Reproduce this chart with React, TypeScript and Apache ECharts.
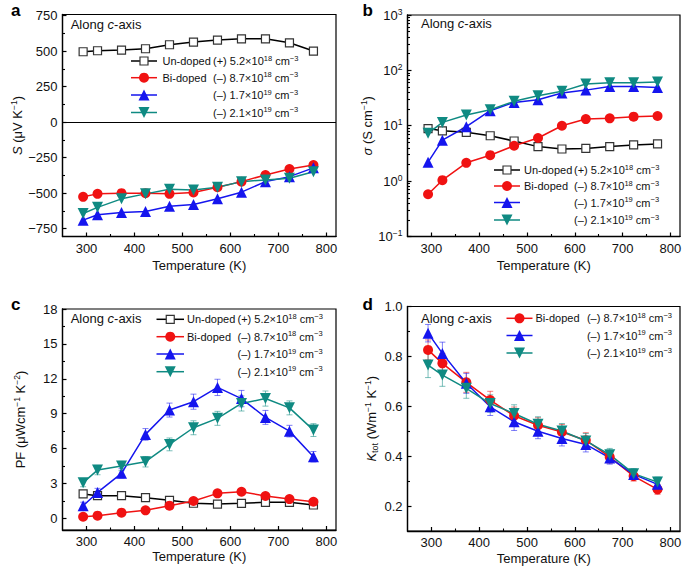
import React, { useEffect, useRef } from "react";
import * as echarts from "echarts";

const FONT = "'Liberation Sans', Arial, Helvetica, sans-serif";
const INK = "#111";
const RED = "#f01212";
const BLUE = "#1515ee";
const TEAL = "#0f8a82";

// ---------- data ----------
const temperatures = [293, 323, 373, 423, 473, 523, 573, 623, 673, 723, 773];
const xTickValues = [300, 400, 500, 600, 700, 800];
const xMinorValues = [350, 450, 550, 650, 750];

// a: Seebeck coefficient S (µV K^-1)
const seebeckUndoped = [495, 502, 507, 516, 544, 563, 577, 586, 586, 558, 500];
const seebeckBi87 = [-526, -505, -500, -500, -505, -495, -458, -419, -372, -330, -302];
const seebeckBi17 = [-690, -652, -636, -629, -592, -580, -540, -493, -419, -384, -322];
const seebeckBi21 = [-643, -600, -540, -505, -472, -477, -458, -419, -407, -395, -349];
const aTicks = [-750, -500, -250, 0, 250, 500, 750];
const aMinor = [-625, -375, -125, 125, 375, 625];

// b: electrical conductivity σ (S cm^-1)
const sigmaUndoped = [8.9, 8.1, 7.6, 6.6, 5.3, 4.2, 3.8, 3.9, 4.2, 4.5, 4.7];
const sigmaBi87 = [0.58, 1.04, 2.14, 2.94, 4.35, 6.0, 10, 13.2, 13.6, 14.6, 15];
const sigmaBi17 = [2.2, 5.5, 9.6, 18.7, 26.4, 29.5, 39, 44, 51, 51, 49];
const sigmaBi21 = [7.3, 11.5, 15.6, 19.5, 27.6, 34.9, 41.8, 56.7, 60, 60, 61.7];
const bMinorMultipliers = [2, 3, 4, 5, 6, 7, 8, 9];
const bDecades = [-1, 0, 1, 2];

// c: power factor PF (µW cm^-1 K^-2)
const pfUndoped = [2.1, 1.95, 1.95, 1.78, 1.55, 1.3, 1.23, 1.29, 1.38, 1.38, 1.15];
const pfBi87 = [0.14, 0.23, 0.49, 0.69, 1.09, 1.49, 2.15, 2.29, 1.92, 1.66, 1.43];
const pfBi17 = [1.09, 2.23, 3.87, 7.22, 9.31, 10.03, 11.26, 10.3, 8.68, 7.5, 5.3];
const pfBi21 = [3.07, 4.15, 4.5, 4.87, 6.36, 7.79, 8.6, 9.88, 10.3, 9.5, 7.59];
const pfErrBi17 = [0.3, 0.35, 0.4, 0.5, 0.6, 0.65, 0.7, 0.7, 0.6, 0.5, 0.45];
const pfErrBi21 = [0.35, 0.4, 0.4, 0.45, 0.55, 0.6, 0.6, 0.65, 0.65, 0.6, 0.55];
const cTicks = [0, 3, 6, 9, 12, 15, 18];
const cMinor = [1.5, 4.5, 7.5, 10.5, 13.5, 16.5];

// d: total thermal conductivity (W m^-1 K^-1)
const kBi87 = [0.826, 0.772, 0.696, 0.625, 0.562, 0.524, 0.497, 0.464, 0.397, 0.32, 0.267];
const kBi17 = [0.893, 0.812, 0.692, 0.598, 0.538, 0.5, 0.471, 0.447, 0.393, 0.327, 0.287];
const kBi21 = [0.765, 0.725, 0.672, 0.611, 0.571, 0.528, 0.501, 0.461, 0.406, 0.33, 0.296];
const kErrBi87 = [0.04, 0.04, 0.04, 0.035, 0.035, 0.03, 0.03, 0.03, 0.025, 0.02, 0.02];
const kErrBi17 = [0.035, 0.045, 0.04, 0.035, 0.035, 0.03, 0.03, 0.03, 0.025, 0.02, 0.02];
const kErrBi21 = [0.05, 0.045, 0.04, 0.035, 0.035, 0.03, 0.03, 0.03, 0.025, 0.02, 0.02];
const dTicks = [0.2, 0.4, 0.6, 0.8, 1.0];
const dMinor = [0.3, 0.5, 0.7, 0.9];

// legend texts
const sampleNames = ["Un-doped", "Bi-doped", "", ""];
const carrierLabels = [
  "{n|(+) 5.2×10}{s|18}{n| cm}{s|−3}",
  "{n|(–) 8.7×10}{s|18}{n| cm}{s|−3}",
  "{n|(–) 1.7×10}{s|19}{n| cm}{s|−3}",
  "{n|(–) 2.1×10}{s|19}{n| cm}{s|−3}",
];
const panelLetters = ["a", "b", "c", "d"];

// ---------- layout ----------
const grids = [
  { left: 62.5, top: 14.5, width: 273.5, height: 222 },
  { left: 407.5, top: 15, width: 272.5, height: 221.5 },
  { left: 62.5, top: 309, width: 273.5, height: 221 },
  { left: 407.5, top: 306.5, width: 272.5, height: 224.5 },
];

type Kind = "un" | "red" | "blue" | "teal";
const STY: Record<Kind, any> = {
  un: { symbol: "rect", size: 8, fill: "#fff", border: "#333", bw: 1.2, line: "#000", rotate: 0 },
  red: { symbol: "circle", size: 10, fill: RED, border: RED, bw: 0, line: RED, rotate: 0 },
  blue: { symbol: "triangle", size: 11, fill: BLUE, border: BLUE, bw: 0, line: BLUE, rotate: 0 },
  teal: { symbol: "triangle", size: 11, fill: TEAL, border: TEAL, bw: 0, line: TEAL, rotate: 180 },
};
const ERRC: Record<Kind, string> = {
  un: "rgba(60,60,60,0.6)",
  red: "rgba(240,18,18,0.55)",
  blue: "rgba(21,21,238,0.55)",
  teal: "rgba(15,138,130,0.55)",
};

const labelStyle = { fontSize: 13, fontFamily: FONT, color: INK };
const richBase = {
  n: { fontSize: 13, fontFamily: FONT, color: INK, lineHeight: 16 },
  i: { fontSize: 13, fontFamily: FONT, color: INK, fontStyle: "italic", lineHeight: 16 },
  s: { fontSize: 8.5, fontFamily: FONT, color: INK, verticalAlign: "top", lineHeight: 9 },
  sub: { fontSize: 9, fontFamily: FONT, color: INK, verticalAlign: "bottom", lineHeight: 9 },
};

function lineSeries(p: number, values: number[], kind: Kind, extra: any = {}) {
  const st = STY[kind];
  return {
    type: "line",
    xAxisIndex: 2 * p,
    yAxisIndex: 2 * p,
    data: temperatures.map((t, i) => [t, values[i]]),
    symbol: st.symbol,
    symbolSize: st.size,
    symbolRotate: st.rotate,
    showAllSymbol: true,
    lineStyle: { color: st.line, width: 1.5 },
    itemStyle: { color: st.fill, borderColor: st.border, borderWidth: st.bw, opacity: 1 },
    z: 3,
    silent: true,
    ...extra,
  };
}

function errSeries(p: number, values: number[], errs: number[], kind: Kind) {
  const color = ERRC[kind];
  return {
    type: "custom",
    xAxisIndex: 2 * p,
    yAxisIndex: 2 * p,
    data: temperatures.map((t, i) => [t, values[i], errs[i]]),
    encode: { x: 0, y: 1 },
    z: 2,
    silent: true,
    renderItem: (_params: any, api: any) => {
      const x = api.value(0);
      const y = api.value(1);
      const e = api.value(2);
      const top = api.coord([x, y + e]);
      const bot = api.coord([x, y - e]);
      const w = 3;
      const style = { stroke: color, lineWidth: 1 };
      return {
        type: "group",
        children: [
          { type: "line", shape: { x1: top[0], y1: top[1], x2: bot[0], y2: bot[1] }, style },
          { type: "line", shape: { x1: top[0] - w, y1: top[1], x2: top[0] + w, y2: top[1] }, style },
          { type: "line", shape: { x1: bot[0] - w, y1: bot[1], x2: bot[0] + w, y2: bot[1] }, style },
        ],
      };
    },
  };
}

function xAxes(p: number, nameGap: number) {
  return [
    {
      type: "value",
      gridIndex: p,
      min: 250,
      max: 820,
      position: "bottom",
      name: "Temperature (K)",
      nameLocation: "middle",
      nameGap,
      nameTextStyle: { fontSize: 13, fontFamily: FONT, color: INK },
      axisLine: { show: true, onZero: false, lineStyle: { color: "#000", width: 1.3 } },
      axisTick: { show: true, inside: true, length: 4, customValues: xTickValues, lineStyle: { color: "#000", width: 1.2 } },
      axisLabel: { show: true, customValues: xTickValues, margin: 5, ...labelStyle },
      splitLine: { show: false },
    },
    {
      type: "value",
      gridIndex: p,
      min: 250,
      max: 820,
      position: "bottom",
      axisLine: { show: false, onZero: false },
      axisLabel: { show: false },
      splitLine: { show: false },
      axisTick: { show: true, inside: true, length: 2.5, customValues: xMinorValues, lineStyle: { color: "#000", width: 1.1 } },
    },
  ];
}

function yAxisValue(p: number, min: number, max: number, ticks: number[], minor: number[], name: string, nameGap: number, fmt?: (v: number) => string) {
  return [
    {
      type: "value",
      gridIndex: p,
      min,
      max,
      position: "left",
      name,
      nameLocation: "middle",
      nameRotate: 90,
      nameGap,
      nameTextStyle: { fontSize: 13, fontFamily: FONT, color: INK, rich: richBase },
      axisLine: { show: true, onZero: false, lineStyle: { color: "#000", width: 1.3 } },
      axisTick: { show: true, inside: true, length: 4, customValues: ticks, lineStyle: { color: "#000", width: 1.2 } },
      axisLabel: {
        show: true,
        customValues: ticks,
        margin: 5,
        ...labelStyle,
        formatter: fmt ? fmt : (v: number) => (v < 0 ? "−" + String(-v) : String(v)),
      },
      splitLine: { show: false },
    },
    {
      type: "value",
      gridIndex: p,
      min,
      max,
      position: "left",
      axisLine: { show: false, onZero: false },
      axisLabel: { show: false },
      splitLine: { show: false },
      axisTick: { show: true, inside: true, length: 2.5, customValues: minor, lineStyle: { color: "#000", width: 1.1 } },
    },
  ];
}

function yAxisLog(p: number, name: string, nameGap: number) {
  const minorLog: number[] = [];
  bDecades.forEach((d) => bMinorMultipliers.forEach((m) => minorLog.push(Math.log10(m) + d)));
  return [
    {
      type: "log",
      logBase: 10,
      gridIndex: p,
      min: 0.1,
      max: 1000,
      position: "left",
      name,
      nameLocation: "middle",
      nameRotate: 90,
      nameGap,
      nameTextStyle: { fontSize: 13, fontFamily: FONT, color: INK, rich: richBase },
      axisLine: { show: true, onZero: false, lineStyle: { color: "#000", width: 1.3 } },
      axisTick: { show: true, inside: true, length: 4, lineStyle: { color: "#000", width: 1.2 } },
      axisLabel: {
        show: true,
        margin: 5,
        ...labelStyle,
        formatter: (v: number) => {
          const e = Math.round(Math.log10(v));
          return "{n|10}{s|" + (e < 0 ? "−" + -e : String(e)) + "}";
        },
        rich: {
          n: { fontSize: 13, fontFamily: FONT, color: INK, lineHeight: 16 },
          s: { fontSize: 8.5, fontFamily: FONT, color: INK, verticalAlign: "top", lineHeight: 9 },
        },
      },
      splitLine: { show: false },
    },
    {
      type: "value",
      gridIndex: p,
      min: -1,
      max: 3,
      position: "left",
      axisLine: { show: false, onZero: false },
      axisLabel: { show: false },
      splitLine: { show: false },
      axisTick: { show: true, inside: true, length: 2.5, customValues: minorLog, lineStyle: { color: "#000", width: 1.1 } },
    },
  ];
}

// ---------- graphic helpers (legends, captions) ----------
const legendRich = {
  n: { fontSize: 11, fontFamily: FONT, fill: INK, color: INK, lineHeight: 14 },
  s: { fontSize: 7.5, fontFamily: FONT, fill: INK, color: INK, verticalAlign: "top", lineHeight: 8 },
};

function marker(kind: Kind, cx: number, cy: number) {
  const st = STY[kind];
  if (kind === "un") {
    return { type: "rect", shape: { x: cx - 4, y: cy - 4, width: 8, height: 8 }, style: { fill: "#fff", stroke: "#333", lineWidth: 1.2 }, silent: true, z: 20 };
  }
  if (kind === "red") {
    return { type: "circle", shape: { cx, cy, r: 5 }, style: { fill: st.fill }, silent: true, z: 20 };
  }
  const h = 5.5;
  const pts = kind === "blue"
    ? [[cx, cy - h], [cx + h, cy + h], [cx - h, cy + h]]
    : [[cx - h, cy - h], [cx + h, cy - h], [cx, cy + h]];
  return { type: "polygon", shape: { points: pts }, style: { fill: st.fill }, silent: true, z: 20 };
}

function legendRow(kind: Kind, x1: number, x2: number, y: number, name: string, nameX: number, val: string, valX: number, valAlign: string) {
  const els: any[] = [
    { type: "line", shape: { x1, y1: y, x2, y2: y }, style: { stroke: STY[kind].line, lineWidth: 1.5 }, silent: true, z: 19 },
    marker(kind, (x1 + x2) / 2, y),
  ];
  if (name) {
    els.push({
      type: "text",
      silent: true,
      z: 20,
      style: { text: name, x: nameX, y, font: "11px " + FONT, fill: INK, textAlign: "left", align: "left", textVerticalAlign: "middle", verticalAlign: "middle" },
    });
  }
  els.push({
    type: "text",
    silent: true,
    z: 20,
    style: { text: val, x: valX, y, font: "11px " + FONT, fill: INK, rich: legendRich, textAlign: valAlign, align: valAlign, textVerticalAlign: "middle", verticalAlign: "middle" },
  });
  return els;
}

function caption(x: number, y: number) {
  return {
    type: "text",
    silent: true,
    z: 20,
    style: {
      text: "{n|Along }{i|c}{n|-axis}",
      x,
      y,
      font: "13px " + FONT,
      fill: INK,
      rich: {
        n: { fontSize: 13, fontFamily: FONT, fill: INK, color: INK },
        i: { fontSize: 13, fontFamily: FONT, fill: INK, color: INK, fontStyle: "italic" },
      },
      textAlign: "left",
      align: "left",
      textVerticalAlign: "middle",
      verticalAlign: "middle",
    },
  };
}

function letter(t: string, x: number, y: number) {
  return {
    type: "text",
    silent: true,
    z: 20,
    style: { text: t, x, y, font: "bold 17px " + FONT, fill: "#000", textAlign: "left", align: "left", textVerticalAlign: "top", verticalAlign: "top" },
  };
}

function buildOption() {
  const kindsAll: Kind[] = ["un", "red", "blue", "teal"];
  const graphics: any[] = [];
  // panel a legend
  const aRows = [61, 77.7, 95, 112.5];
  kindsAll.forEach((k, i) => graphics.push(...legendRow(k, 131, 157, aRows[i], sampleNames[i], 162.5, carrierLabels[i], 213, "left")));
  // panel b legend
  const bRows = [170, 186, 202.5, 220];
  kindsAll.forEach((k, i) => graphics.push(...legendRow(k, 494, 520, bRows[i], sampleNames[i], 524, carrierLabels[i], 574, "left")));
  // panel c legend
  const cRows = [319.3, 336.7, 354, 371.7];
  kindsAll.forEach((k, i) => graphics.push(...legendRow(k, 156.5, 184, cRows[i], sampleNames[i], 187, carrierLabels[i], 237.5, "left")));
  // panel d legend
  const dKinds: Kind[] = ["red", "blue", "teal"];
  const dRows = [318.3, 335.5, 353];
  dKinds.forEach((k, i) =>
    graphics.push(...legendRow(k, 506.5, 532.5, dRows[i], sampleNames[i + 1], 535.5, carrierLabels[i + 1], 672, "right"))
  );

  graphics.push(caption(70.7, 24.5), caption(421, 23.5), caption(70.7, 318.5), caption(421, 318));
  graphics.push(letter(panelLetters[0], 11, 2), letter(panelLetters[1], 362.5, 2), letter(panelLetters[2], 11, 296), letter(panelLetters[3], 362.5, 296));

  return {
    animation: false,
    backgroundColor: "#fff",
    textStyle: { fontFamily: FONT },
    grid: grids.map((g) => ({
      ...g,
      show: true,
      borderColor: "#000",
      borderWidth: 1.2,
      backgroundColor: "transparent",
      containLabel: false,
      outerBoundsMode: "none",
    })),
    xAxis: [...xAxes(0, 22), ...xAxes(1, 22), ...xAxes(2, 20), ...xAxes(3, 21)],
    yAxis: [
      ...yAxisValue(0, -805, 757, aTicks, aMinor, "{i|S}{n| (μV K}{s|−1}{n|)}", 36),
      ...yAxisLog(1, "{i|σ}{n| (S cm}{s|−1}{n|)}", 29),
      ...yAxisValue(2, -1, 18, cTicks, cMinor, "{n|PF (μWcm}{s|−1}{n| K}{s|−2}{n|)}", 34),
      ...yAxisValue(3, 0.1, 1.0, dTicks, dMinor, "{i|K}{sub|tot}{n| (Wm}{s|−1}{n| K}{s|−1}{n|)}", 28, (v: number) => v.toFixed(1)),
    ],
    series: [
      // a
      lineSeries(0, seebeckUndoped, "un", {
        markLine: {
          silent: true,
          symbol: "none",
          label: { show: false },
          lineStyle: { color: "#000", type: "solid", width: 1.2 },
          data: [{ yAxis: 0 }],
        },
      }),
      lineSeries(0, seebeckBi87, "red"),
      lineSeries(0, seebeckBi17, "blue"),
      lineSeries(0, seebeckBi21, "teal"),
      // b
      lineSeries(1, sigmaUndoped, "un"),
      lineSeries(1, sigmaBi87, "red"),
      lineSeries(1, sigmaBi17, "blue"),
      lineSeries(1, sigmaBi21, "teal"),
      // c
      errSeries(2, pfBi17, pfErrBi17, "blue"),
      errSeries(2, pfBi21, pfErrBi21, "teal"),
      lineSeries(2, pfUndoped, "un"),
      lineSeries(2, pfBi87, "red"),
      lineSeries(2, pfBi17, "blue"),
      lineSeries(2, pfBi21, "teal"),
      // d
      errSeries(3, kBi87, kErrBi87, "red"),
      errSeries(3, kBi17, kErrBi17, "blue"),
      errSeries(3, kBi21, kErrBi21, "teal"),
      lineSeries(3, kBi87, "red"),
      lineSeries(3, kBi17, "blue"),
      lineSeries(3, kBi21, "teal"),
    ],
    graphic: { elements: graphics },
  };
}

export default function App() {
  const ref = useRef<HTMLDivElement>(null);
  useEffect(() => {
    if (!ref.current) return;
    const chart = echarts.init(ref.current, null, { renderer: "svg" });
    chart.setOption(buildOption() as any);
    return () => chart.dispose();
  }, []);
  return (
    <div
      ref={ref}
      style={{ position: "fixed", left: 0, top: 0, width: 685, height: 567, background: "#fff" }}
    />
  );
}
